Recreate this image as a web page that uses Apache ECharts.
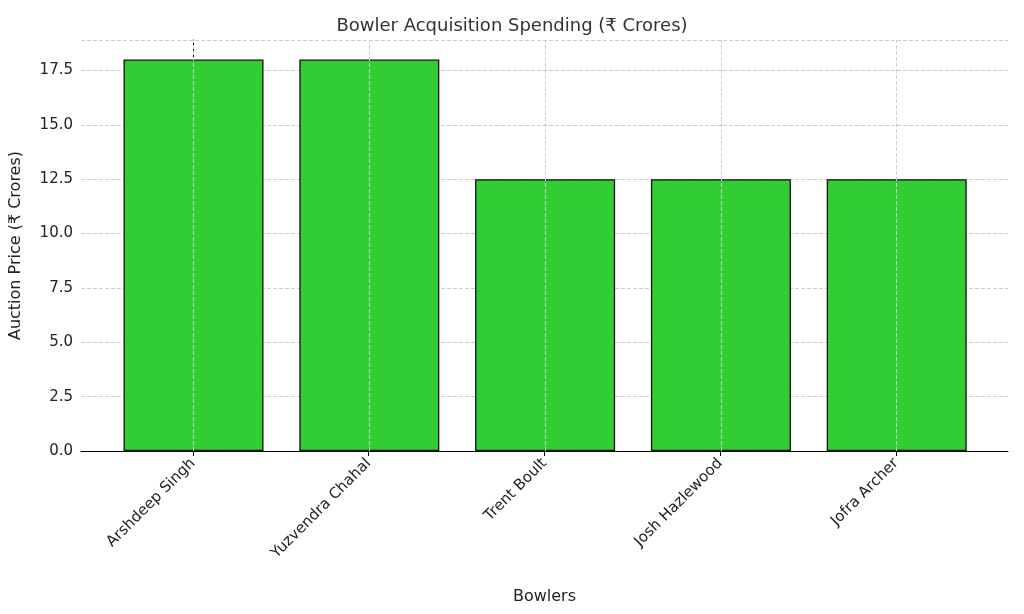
<!DOCTYPE html>
<html><head><meta charset="utf-8">
<script src="https://cdn.jsdelivr.net/npm/echarts@6/dist/echarts.min.js"></script>
<style>html,body{margin:0;padding:0;background:#fff}#c{width:1024px;height:614px}</style>
</head><body><div id="c"></div>
<script>
const categories = ["Arshdeep Singh","Yuzvendra Chahal","Trent Boult","Josh Hazlewood","Jofra Archer"];
const values = [18, 18, 12.5, 12.5, 12.5];
const chart = echarts.init(document.getElementById('c'));
const font = 'DejaVu Sans';
chart.setOption({
  animation:false,
  textStyle:{fontFamily:font},
  title:{text:'Bowler Acquisition Spending (₹ Crores)',left:'center',top:12,textStyle:{fontFamily:font,fontSize:18,fontWeight:'normal',color:'#333'}},
  grid:[{left:81,right:16,top:40,bottom:163},{left:105,right:40,top:40,bottom:163}],
  xAxis:[
    {type:'value',gridIndex:0,min:-0.64,max:4.633,axisLabel:{show:false},axisTick:{show:false},splitLine:{show:false},
     axisLine:{lineStyle:{color:'#000'}},name:'Bowlers',nameLocation:'middle',nameGap:138,nameTextStyle:{fontSize:16,color:'#222'}},
    {type:'category',gridIndex:1,data:categories,boundaryGap:true,axisLine:{show:false},axisTick:{show:true,alignWithLabel:true,length:5,lineStyle:{color:'#000'}},
     axisLabel:{rotate:45,fontSize:15,color:'#222',margin:10,interval:0},splitLine:{show:false}}
  ],
  yAxis:[
    {type:'value',gridIndex:0,min:0,max:18.9,interval:2.5,
     axisLabel:{formatter:v=>v.toFixed(1),fontSize:15,color:'#222',showMaxLabel:false},
     axisLine:{show:true,lineStyle:{color:'#000'}},axisTick:{show:true,length:5,lineStyle:{color:'#000'}},
     splitLine:{show:true,lineStyle:{type:'dashed',color:'#ccc'}},
     name:'Auction Price (₹ Crores)',nameLocation:'middle',nameGap:57,nameTextStyle:{fontSize:16,color:'#222'}},
    {type:'value',gridIndex:1,show:false,min:0,max:18.9}
  ],
  series:[{
    type:'bar',xAxisIndex:0,yAxisIndex:0,barWidth:140,
    data:values.map((v,i)=>[i,v]),
    itemStyle:{color:'#32CD32',borderColor:'#111',borderWidth:1.3},
    markLine:{silent:true,symbol:'none',label:{show:false},lineStyle:{type:'dashed',color:'#ccc',width:1},
      data:categories.map((c,i)=>({xAxis:i}))},
    z:1
  }]
});
</script></body></html>
